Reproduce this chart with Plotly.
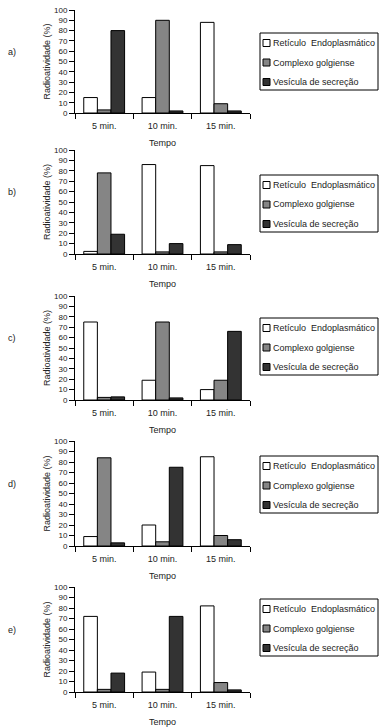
import plotly.graph_objects as go

W, H = 383, 727

categories = ["5 min.", "10 min.", "15 min."]
series_names = ["Retículo  Endoplasmático", "Complexo golgiense", "Vesícula de secreção"]
panel_labels = ["a)", "b)", "c)", "d)", "e)"]

# values per panel: [RE, CG, VS] each over categories
a_re = [15, 15, 88]; a_cg = [3, 90, 9]; a_vs = [80, 2, 2]
b_re = [2.5, 86, 85]; b_cg = [78, 2, 2]; b_vs = [19, 10, 9]
c_re = [75, 19, 10]; c_cg = [2.5, 75, 19]; c_vs = [3, 2, 66]
d_re = [9, 20, 85]; d_cg = [84, 4, 10]; d_vs = [3, 75, 6]
e_re = [72, 19, 82]; e_cg = [2.5, 2.5, 9]; e_vs = [18, 72, 2]

panels = [
    (a_re, a_cg, a_vs),
    (b_re, b_cg, b_vs),
    (c_re, c_cg, c_vs),
    (d_re, d_cg, d_vs),
    (e_re, e_cg, e_vs),
]

colors = ["#ffffff", "#858585", "#333333"]
TXT = "#222222"
FONT = "Liberation Sans, Arial, sans-serif"

# pixel layout
plot_x0, plot_x1 = 75, 250
plot_y = [(10, 113), (150, 254), (296, 400), (441, 546), (587, 692)]
legend_top = [33, 175, 318, 456, 599]
legend_x0, legend_x1 = 260, 378
legend_h = 57
item_offsets = [10, 29.5, 49]


def px(x):
    return x / W


def py(y):
    return 1 - y / H


fig = go.Figure()
shapes = []
annotations = []

for i, (re, cg, vs) in enumerate(panels):
    n = "" if i == 0 else str(i + 1)
    xa, ya = "x" + n, "y" + n
    for name, vals, col in zip(series_names, (re, cg, vs), colors):
        fig.add_trace(go.Bar(
            x=categories, y=vals, name=name, xaxis=xa, yaxis=ya,
            marker=dict(color=col, line=dict(color="#000000", width=1)),
            showlegend=False, hoverinfo="x+y+name",
        ))
    top, bot = plot_y[i]
    fig.layout["xaxis" + n] = dict(
        domain=[px(plot_x0), px(plot_x1)], anchor=ya, automargin=False,
        type="category", range=[-0.5, 2.5],
        showline=True, linecolor="#000000", linewidth=1,
        ticks="outside", tickson="boundaries", ticklen=5, tickcolor="#000000",
        ticklabelstandoff=4,
        tickfont=dict(size=9, color=TXT, family=FONT),
        showgrid=False, zeroline=False,
        title=dict(text="Tempo", font=dict(size=9, color=TXT, family=FONT), standoff=9),
    )
    fig.layout["yaxis" + n] = dict(
        domain=[py(bot), py(top)], anchor=xa, automargin=False,
        range=[0, 100], tickmode="linear", tick0=0, dtick=10,
        showline=True, linecolor="#000000", linewidth=1,
        ticks="outside", ticklen=5, tickcolor="#000000",
        tickfont=dict(size=8, color=TXT, family=FONT),
        showgrid=False, zeroline=False,
        title=dict(text="Radioatividade (%)", font=dict(size=9, color=TXT, family=FONT), standoff=1),
    )
    # panel label
    annotations.append(dict(
        text=panel_labels[i], x=px(12), y=py((top + bot) / 2 - 10), xref="paper", yref="paper",
        showarrow=False, xanchor="center", yanchor="middle",
        font=dict(size=9, color=TXT, family=FONT),
    ))
    # manual legend
    lt = legend_top[i]
    shapes.append(dict(type="rect", xref="paper", yref="paper",
                       x0=px(legend_x0), x1=px(legend_x1), y0=py(lt + legend_h), y1=py(lt),
                       line=dict(color="#000000", width=1), fillcolor="#ffffff"))
    for name, col, off in zip(series_names, colors, item_offsets):
        cy = lt + off
        shapes.append(dict(type="rect", xref="paper", yref="paper",
                           x0=px(263), x1=px(270), y0=py(cy + 3.5), y1=py(cy - 3.5),
                           line=dict(color="#000000", width=1), fillcolor=col))
        annotations.append(dict(
            text=name, x=px(271), y=py(cy), xref="paper", yref="paper",
            showarrow=False, xanchor="left", yanchor="middle",
            font=dict(size=9, color=TXT, family=FONT),
        ))

fig.update_layout(
    width=W, height=H, margin=dict(l=0, r=0, t=0, b=0, autoexpand=False),
    paper_bgcolor="#ffffff", plot_bgcolor="#ffffff",
    barmode="group", bargap=0.3, bargroupgap=0,
    shapes=shapes, annotations=annotations,
    font=dict(family=FONT, color=TXT),
    showlegend=False,
)

fig.write_html(
    "out.html",
    config={"displayModeBar": False},
    post_script="document.body.style.margin='0';document.body.style.overflow='hidden';",
)
